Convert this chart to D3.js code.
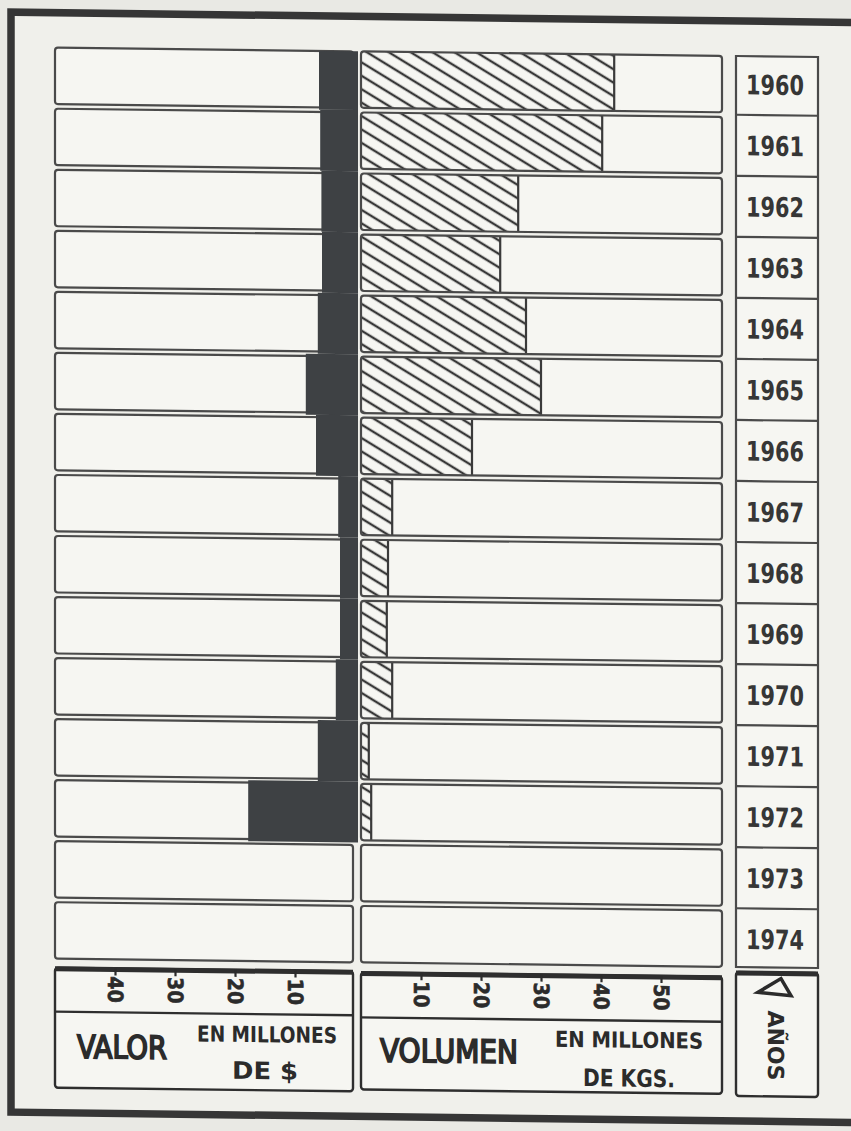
<!DOCTYPE html>
<html><head><meta charset="utf-8">
<script src="https://cdn.jsdelivr.net/npm/d3@7"></script>
<style>html,body{margin:0;padding:0;background:#e9e9e4;} svg{display:block}</style>
</head><body><svg id="c" width="851" height="1131"></svg>
<script>
// ---- data ----
const years   = [1960,1961,1962,1963,1964,1965,1966,1967,1968,1969,1970,1971,1972,1973,1974];
const valor   = [6.0, 5.8, 5.6, 5.5, 6.2, 8.2, 6.5, 2.8, 2.5, 2.5, 3.2, 6.2, 17.8, null, null]; // millones de $
const volumen = [42.2,40.2,26.2,23.2,27.5,30.0,18.5,5.2, 4.5, 4.3, 5.2, 1.3, 1.7, null, null]; // millones de kgs
const valorTicks   = [10,20,30,40];
const volumenTicks = [10,20,30,40,50];
const labels = {valor:"VALOR", volumen:"VOLUMEN", unit1:"EN MILLONES", unitV:"DE $", unitK:"DE KGS.", years:"AÑOS"};

// ---- styles ----
const FONT = "'DejaVu Sans Condensed','DejaVu Sans',sans-serif";
const LINE = "#4a4a4a", INK = "#2b2b2b", BOX = "#f6f6f2", PAPER = "#f0f0eb", DARK = "#3e4144";

const svg = d3.select("#c");
svg.append("rect").attr("width",851).attr("height",1131).attr("fill","#e9e9e4");

const defs = svg.append("defs");
const pat = defs.append("pattern").attr("id","hatch").attr("patternUnits","userSpaceOnUse")
  .attr("width",12).attr("height",11.5).attr("patternTransform","rotate(31)");
pat.append("rect").attr("width",12).attr("height",11.5).attr("fill",BOX);
pat.append("line").attr("x1",-1).attr("x2",13).attr("y1",5.75).attr("y2",5.75).attr("stroke","#383838").attr("stroke-width",2.4);

const g = svg.append("g").attr("transform","translate(0,-5) skewY(0.7)");

// frame
g.append("rect").attr("x",11).attr("y",17).attr("width",900).attr("height",1100)
  .attr("fill",PAPER).attr("stroke","#363636").attr("stroke-width",7.5);

// scales
const y  = d3.scaleBand().domain(years).range([52,963]).paddingInner(0.075);
const gap = y.step() - y.bandwidth();
const xL = d3.scaleLinear().domain([0,50]).range([355,55]);
const xR = d3.scaleLinear().domain([0,60]).range([361,721]);

const rows = years.map((yr,i)=>({yr, v:valor[i], k:volumen[i], i}));

// left row boxes
g.selectAll(".lbox").data(rows).join("rect")
  .attr("x",55).attr("width",298).attr("y",d=>y(d.yr)).attr("height",y.bandwidth())
  .attr("rx",3).attr("fill",BOX).attr("stroke",LINE).attr("stroke-width",2.2);

// dark value bars (continuous column)
g.selectAll(".vbar").data(rows.filter(d=>d.v!=null)).join("rect")
  .attr("x",d=>xL(d.v)).attr("width",d=>358-xL(d.v))
  .attr("y",d=>d.i===0 ? y(d.yr) : y(d.yr)-gap/2)
  .attr("height",d=>d.i===0 ? y.bandwidth()+gap/2 : y.step())
  .attr("fill",DARK);

// right row boxes
g.selectAll(".rbox").data(rows).join("rect")
  .attr("x",xR(0)).attr("width",xR(60)-xR(0)+1).attr("y",d=>y(d.yr)).attr("height",y.bandwidth())
  .attr("rx",3).attr("fill",BOX);
g.selectAll(".kbar").data(rows.filter(d=>d.k!=null)).join("rect")
  .attr("x",xR(0)).attr("width",d=>xR(d.k)-xR(0)).attr("y",d=>y(d.yr)).attr("height",y.bandwidth())
  .attr("fill","url(#hatch)");
g.selectAll(".kend").data(rows.filter(d=>d.k!=null)).join("line")
  .attr("x1",d=>xR(d.k)).attr("x2",d=>xR(d.k)).attr("y1",d=>y(d.yr)).attr("y2",d=>y(d.yr)+y.bandwidth())
  .attr("stroke","#3a3a3a").attr("stroke-width",2.2);
g.selectAll(".rout").data(rows).join("rect")
  .attr("x",xR(0)).attr("width",xR(60)-xR(0)+1).attr("y",d=>y(d.yr)).attr("height",y.bandwidth())
  .attr("rx",3).attr("fill","none").attr("stroke",LINE).attr("stroke-width",2.2);

// year column
g.append("rect").attr("x",736).attr("width",82).attr("y",52).attr("height",911)
  .attr("fill",BOX).attr("stroke",LINE).attr("stroke-width",2.2);
g.selectAll(".ysep").data(rows.slice(1)).join("line")
  .attr("x1",736).attr("x2",818).attr("y1",d=>y(d.yr)-gap/2).attr("y2",d=>y(d.yr)-gap/2)
  .attr("stroke",LINE).attr("stroke-width",2.2);
g.selectAll(".ytxt").data(rows).join("text")
  .attr("x",746).attr("y",d=>y(d.yr)+y.bandwidth()/2+10)
  .attr("font-family",FONT).attr("font-weight","bold").attr("font-size",27)
  .attr("textLength",58).attr("lengthAdjust","spacingAndGlyphs")
  .attr("fill","#363636").text(d=>d.yr);

// axis boxes
function box(x,y0,w,h,div){
  g.append("rect").attr("x",x).attr("y",y0).attr("width",w).attr("height",h).attr("rx",3)
    .attr("fill",BOX).attr("stroke","#2e2e2e").attr("stroke-width",2.4);
  g.append("line").attr("x1",x).attr("x2",x+w).attr("y1",y0+1).attr("y2",y0+1).attr("stroke","#2e2e2e").attr("stroke-width",5);
  if(div) g.append("line").attr("x1",x).attr("x2",x+w).attr("y1",div).attr("y2",div).attr("stroke","#2e2e2e").attr("stroke-width",2.4);
}
box(55,972,298,120,1016);
box(361,973,361,117,1018);
box(736,968,82,124,null);

function axis(scale, ticks, y0){
  const a = g.append("g").attr("transform",`translate(0,${y0})`)
    .call(d3.axisBottom(scale).tickValues(ticks).tickSize(7).tickFormat(d3.format("d")));
  a.select(".domain").remove();
  a.selectAll(".tick line").attr("stroke",INK).attr("stroke-width",2.2);
  a.selectAll(".tick text").attr("transform","rotate(90)").attr("x",8).attr("y",0).attr("dy","0.36em")
    .attr("text-anchor","start").attr("font-family",FONT).attr("font-weight","bold")
    .attr("font-size",21).attr("fill",INK).attr("stroke",INK).attr("stroke-width",0.6);
}
axis(xL, valorTicks, 972);
axis(xR, volumenTicks, 973);

function txt(x,yb,s,size,len,weight,sw){
  g.append("text").attr("x",x).attr("y",yb).attr("font-family",FONT).attr("font-size",size)
    .attr("font-weight",weight||"normal").attr("fill",INK).attr("stroke",INK).attr("stroke-width",sw||0)
    .attr("textLength",len).attr("lengthAdjust","spacingAndGlyphs").text(s);
}
txt(77,1062,labels.valor,32,90,"normal",1.7);
txt(197,1044,labels.unit1,22,140,"bold",0);
txt(232,1081,labels.unitV,24,66,"bold",0);
txt(380,1062,labels.volumen,32,138,"normal",1.7);
txt(555,1045,labels.unit1,22,148,"bold",0);
txt(583,1084,labels.unitK,24,92,"bold",0);

// years label
g.append("path").attr("d","M758,988 L781,974 L791,991 Z").attr("fill","none")
  .attr("stroke",INK).attr("stroke-width",3.5).attr("stroke-linejoin","miter");
g.append("text").attr("transform","translate(768,1006) rotate(90)")
  .attr("font-family",FONT).attr("font-weight","bold").attr("font-size",22).attr("fill",INK)
  .attr("textLength",70).attr("lengthAdjust","spacingAndGlyphs").text(labels.years);
</script></body></html>
